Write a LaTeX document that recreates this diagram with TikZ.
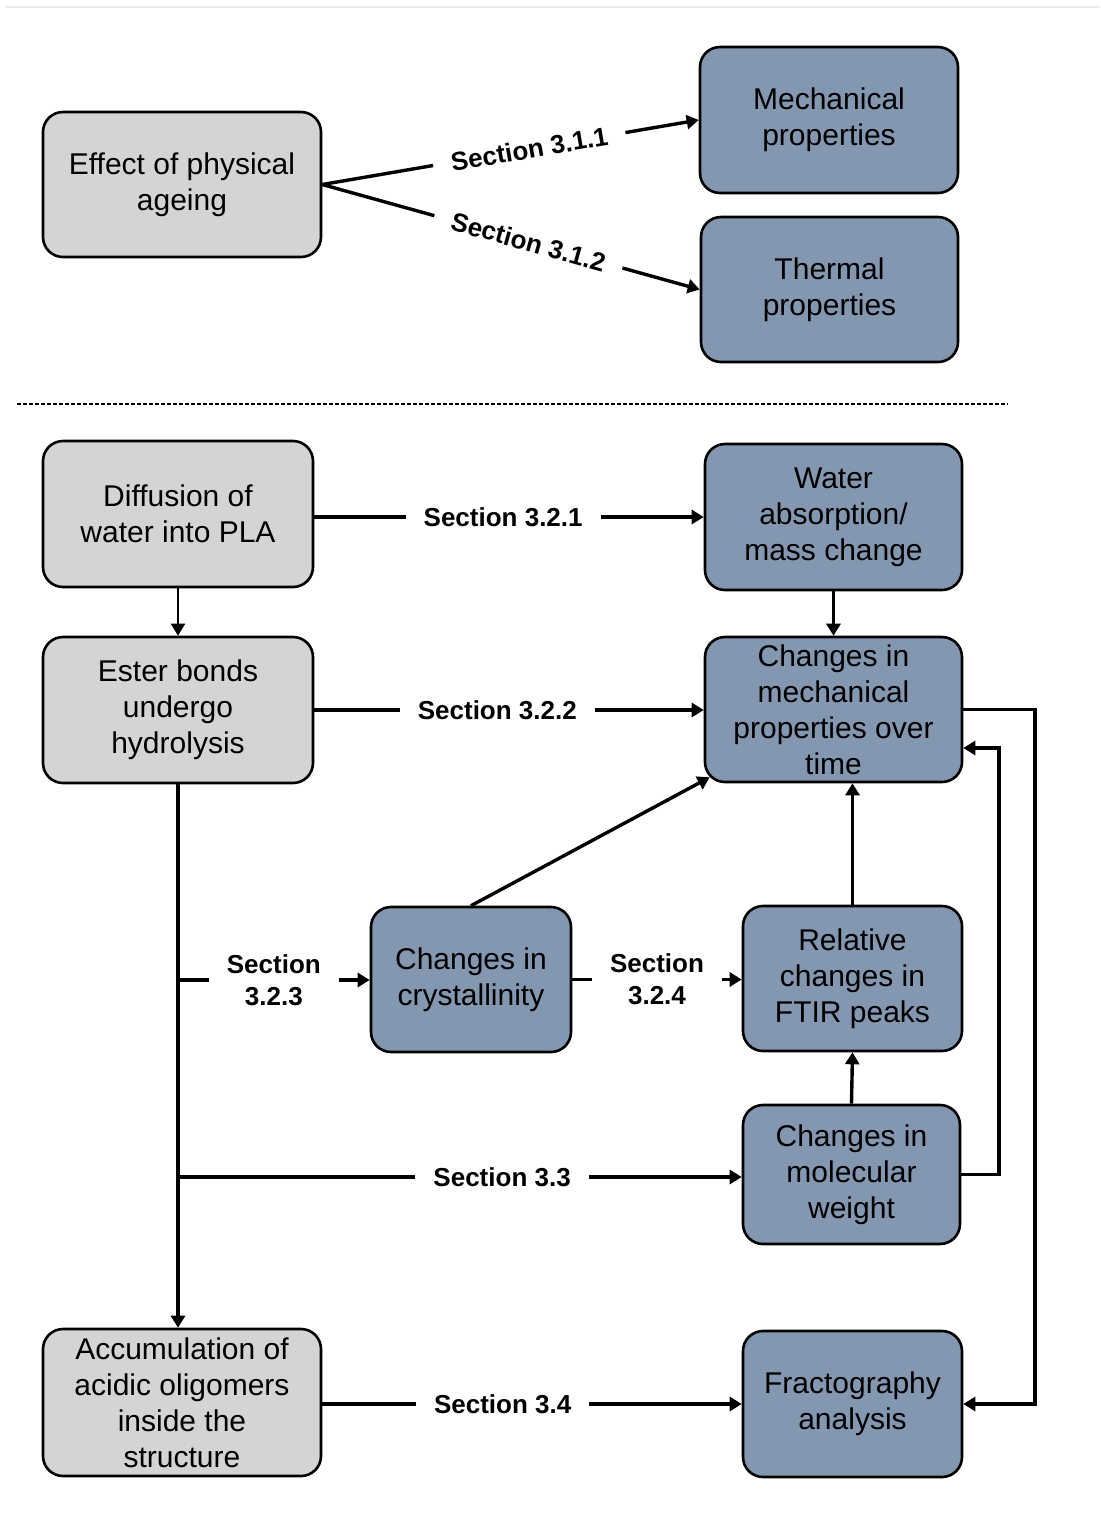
\documentclass[tikz,border=0pt]{standalone}
\usepackage{fontspec}
\setmainfont{Liberation Sans}
\usetikzlibrary{arrows.meta,calc}
\definecolor{boxgray}{HTML}{D4D4D4}
\definecolor{boxblue}{HTML}{8497B0}
\begin{document}
\begin{tikzpicture}[x=0.5pt,y=-0.5pt,
  basebox/.style={draw=black,line width=1.3pt,rounded corners=10pt,align=center,
    inner sep=2pt,font=\fontsize{15}{18}\selectfont},
  graybox/.style={basebox,fill=boxgray},
  bluebox/.style={basebox,fill=boxblue},
  conn/.style={line width=1.7pt},
  arr/.style={conn,-{Triangle[length=6pt,width=7pt]}},
  seclabel/.style={fill=white,inner xsep=9pt,inner ysep=1pt,align=center,
    font=\bfseries\fontsize{13}{16}\selectfont}
]
\useasboundingbox (0,0) rectangle (1100,1522);
\draw[gray!15,line width=0.6pt] (5,7) -- (1100,7);

% top part
\node[graybox,minimum width=139pt,minimum height=72.5pt] (eff) at (182,184.5) {Effect of physical\\ageing};
\node[bluebox,minimum width=129pt,minimum height=73pt] (mech) at (829,120) {Mechanical\\properties};
\node[bluebox,minimum width=128.5pt,minimum height=72.5pt] (therm) at (829.5,289.5) {Thermal\\properties};

\draw[arr] (eff.east) -- node[seclabel,sloped,pos=0.55]{Section 3.1.1} (mech.west);
\draw[arr] (eff.east) -- node[seclabel,sloped,pos=0.546]{Section 3.1.2} (therm.west);

% dashed separator
\draw[line width=0.7pt,dash pattern=on 2pt off 1pt] (17,404) -- (1008,404);

% lower part
\node[graybox,minimum width=135pt,minimum height=73pt] (diff) at (178,514) {Diffusion of\\water into PLA};
\node[bluebox,minimum width=128.5pt,minimum height=73pt] (water) at (833.5,517) {Water\\absorption/\\mass change};
\node[graybox,minimum width=135pt,minimum height=73pt] (ester) at (178,710) {Ester bonds\\undergo\\hydrolysis};
\node[bluebox,minimum width=128.5pt,minimum height=72.5pt] (chmech) at (833.5,709.5) {Changes in\\mechanical\\properties over\\time};
\node[bluebox,minimum width=100pt,minimum height=72.5pt] (cryst) at (471,979.5) {Changes in\\crystallinity};
\node[bluebox,minimum width=109.5pt,minimum height=72.5pt] (ftir) at (852.5,978.5) {Relative\\changes in\\FTIR peaks};
\node[bluebox,minimum width=108.5pt,minimum height=69.5pt] (molw) at (851.5,1174.5) {Changes in\\molecular\\weight};
\node[graybox,minimum width=139pt,minimum height=73.5pt] (accum) at (182,1402.5) {Accumulation of\\acidic oligomers\\inside the\\structure};
\node[bluebox,minimum width=109.5pt,minimum height=73pt] (frac) at (852.5,1404) {Fractography\\analysis};

\coordinate (b1) at (178,980);
\coordinate (b2) at (178,1177);
\coordinate (m1) at (999,748);
\coordinate (m2) at (1035,0);

\draw[arr] (diff.east |- water.west) -- node[seclabel,pos=0.485]{Section 3.2.1} (water.west);
\draw[arr,line width=1pt] (diff.south) -- (ester.north);
\draw[arr] (ester.east) -- node[seclabel,pos=0.47]{Section 3.2.2} (ester.east -| chmech.west);
\draw[arr] (water.south) -- (chmech.north);
\draw[arr] (ester.south) -- (ester.south |- accum.north);
\draw[arr] (b1) -- node[seclabel]{Section\\3.2.3} (b1 -| cryst.west);
\draw[arr] (cryst.east) -- node[seclabel]{Section\\3.2.4} (cryst.east -| ftir.west);
\draw[arr] (cryst.north) -- ($(chmech.south west)+(6,-6)$);
\draw[arr] (ftir.north) -- (ftir.north |- chmech.south);
\draw[arr] (molw.north) -- (ftir.south);
\draw[arr] (b2) -- node[seclabel,pos=0.575]{Section 3.3} (b2 -| molw.west);
\draw[arr] (molw.east) -| (m1) -- (m1 -| chmech.east);
\draw[arr] (chmech.east) -- (chmech.east -| m2) |- (frac.east);
\draw[arr] (accum.east |- frac.west) -- node[seclabel,pos=0.43]{Section 3.4} (frac.west);
\end{tikzpicture}
\end{document}
